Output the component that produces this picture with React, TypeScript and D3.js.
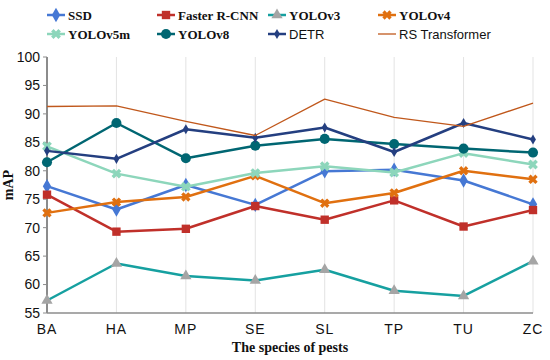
import React from 'react';
import * as d3 from 'd3';

const categories = ['BA', 'HA', 'MP', 'SE', 'SL', 'TP', 'TU', 'ZC'];
const yTicks = [55, 60, 65, 70, 75, 80, 85, 90, 95, 100];

const ssd = [77.3, 73.2, 77.5, 74.0, 79.9, 80.2, 78.3, 74.1];
const fasterRcnn = [75.8, 69.3, 69.8, 73.8, 71.4, 74.8, 70.2, 73.1];
const yolov3 = [57.2, 63.7, 61.5, 60.7, 62.6, 58.9, 58.0, 64.1];
const yolov4 = [72.6, 74.5, 75.4, 79.1, 74.3, 76.1, 80.0, 78.5];
const yolov5m = [84.3, 79.5, 77.2, 79.6, 80.8, 79.7, 83.1, 81.1];
const yolov8 = [81.5, 88.4, 82.2, 84.4, 85.6, 84.7, 83.9, 83.2];
const detr = [83.5, 82.1, 87.3, 85.8, 87.6, 83.3, 88.4, 85.5];
const rsTransformer = [91.3, 91.4, 88.7, 86.2, 92.6, 89.4, 87.8, 91.9];

const serif = '"Liberation Serif", "Times New Roman", serif';
const sans = '"Liberation Sans", Arial, sans-serif';

const series = [
  { name: 'SSD', values: ssd, color: '#4678d4', marker: 'diamond', mcolor: '#4678d4', width: 2.5, font: serif },
  { name: 'Faster R-CNN', values: fasterRcnn, color: '#c0302a', marker: 'square', mcolor: '#c0302a', width: 2.5, font: serif },
  { name: 'YOLOv3', values: yolov3, color: '#16a0a0', marker: 'triangle', mcolor: '#a5a5a5', width: 2.5, font: serif },
  { name: 'YOLOv4', values: yolov4, color: '#e07010', marker: 'cross', mcolor: '#e07010', width: 2.5, font: serif },
  { name: 'YOLOv5m', values: yolov5m, color: '#8dd6bb', marker: 'star', mcolor: '#8dd6bb', width: 2.5, font: serif },
  { name: 'YOLOv8', values: yolov8, color: '#006672', marker: 'circle', mcolor: '#006672', width: 2.5, font: serif },
  { name: 'DETR', values: detr, color: '#243f80', marker: 'smalldiamond', mcolor: '#243f80', width: 2.5, font: sans },
  { name: 'RS Transformer', values: rsTransformer, color: '#c0581c', marker: 'none', mcolor: '#c0581c', width: 1.3, font: sans },
];

const symbolFor = (m: string) => {
  switch (m) {
    case 'diamond': return d3.symbol(d3.symbolDiamond, 60)();
    case 'smalldiamond': return d3.symbol(d3.symbolDiamond, 30)();
    case 'square': return d3.symbol(d3.symbolSquare, 70)();
    case 'triangle': return d3.symbol(d3.symbolTriangle, 55)();
    case 'cross': return d3.symbol(d3.symbolCross, 55)();
    case 'star': return d3.symbol(d3.symbolCross, 60)();
    case 'circle': return d3.symbol(d3.symbolCircle, 80)();
    default: return null;
  }
};

const App = () => {
  const width = 550;
  const height = 360;
  const margin = { top: 57, right: 17, bottom: 47, left: 47 };

  const x = d3.scalePoint<string>()
    .domain(categories)
    .range([margin.left, width - margin.right]);
  const y = d3.scaleLinear()
    .domain([55, 100])
    .range([height - margin.bottom, margin.top]);

  const line = d3.line<number>()
    .x((_, i) => x(categories[i]) as number)
    .y((d) => y(d));

  const legendCols = [47, 157, 268, 378];
  const legendRows = [15, 34];

  return (
    <svg width={width} height={height} style={{ position: 'absolute', left: 0, top: 0, background: '#fff' }}>
      {/* vertical grid */}
      {categories.slice(1).map((c) => (
        <line key={c} x1={x(c)} x2={x(c)} y1={y(100)} y2={y(55)} stroke="#e3e3e3" strokeWidth={1} />
      ))}
      {/* axes */}
      <line x1={margin.left} x2={margin.left} y1={y(100)} y2={y(55)} stroke="#8c8c8c" strokeWidth={2} />
      <line x1={margin.left} x2={width - margin.right} y1={y(55)} y2={y(55)} stroke="#8c8c8c" strokeWidth={1.5} />
      {yTicks.map((t) => (
        <g key={t}>
          <line x1={margin.left - 4} x2={margin.left} y1={y(t)} y2={y(t)} stroke="#8c8c8c" strokeWidth={1} />
          <text x={margin.left - 7} y={y(t)} dy="0.35em" textAnchor="end" fontFamily={sans} fontSize={14} fill="#111">{t}</text>
        </g>
      ))}
      {categories.map((c) => (
        <text key={c} x={x(c)} y={y(55) + 21} textAnchor="middle" fontFamily={sans} fontSize={14} fill="#111" letterSpacing={1}>{c}</text>
      ))}
      <text transform={`translate(13,${(y(100) + y(55)) / 2}) rotate(-90)`} textAnchor="middle" fontFamily={serif} fontWeight="bold" fontSize={14} fill="#111">mAP</text>
      <text x={(margin.left + width - margin.right) / 2} y={352} textAnchor="middle" fontFamily={serif} fontWeight="bold" fontSize={14} fill="#111">The species of pests</text>

      {/* series */}
      {series.map((s) => {
        const sym = symbolFor(s.marker);
        return (
          <g key={s.name}>
            <path d={line(s.values) as string} fill="none" stroke={s.color} strokeWidth={s.width} strokeLinejoin="round" />
            {sym && s.values.map((v, i) => (
              <path key={i} d={sym} transform={`translate(${x(categories[i])},${y(v)})${s.marker === 'star' || s.marker === 'cross' ? ' rotate(45)' : ''}`} fill={s.mcolor} />
            ))}
          </g>
        );
      })}

      {/* legend */}
      {series.map((s, i) => {
        const lx = legendCols[i % 4];
        const ly = legendRows[Math.floor(i / 4)];
        const sym = symbolFor(s.marker);
        return (
          <g key={s.name} transform={`translate(${lx},${ly})`}>
            <line x1={0} x2={18} y1={0} y2={0} stroke={s.color} strokeWidth={s.width} />
            {sym && <path d={sym} transform={`translate(9,0)${s.marker === 'star' || s.marker === 'cross' ? ' rotate(45)' : ''}`} fill={s.mcolor} />}
            <text x={21} y={0} dy="0.35em" fontFamily={s.font} fontWeight={s.font === serif ? 'bold' : 'normal'} fontSize={13} fill="#111">{s.name}</text>
          </g>
        );
      })}
    </svg>
  );
};

export default App;
